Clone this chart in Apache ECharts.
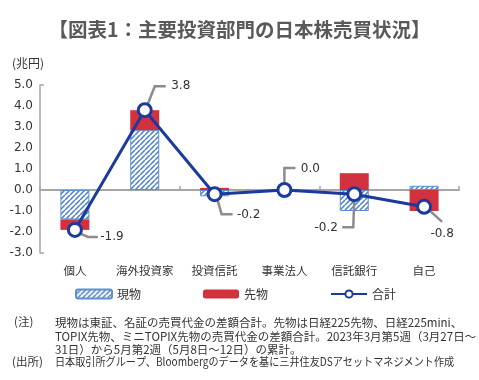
<!DOCTYPE html>
<html><head><meta charset="utf-8">
<script src="https://cdn.jsdelivr.net/npm/echarts@6/dist/echarts.min.js"></script>
<style>html,body{margin:0;padding:0;background:#fff}#c{width:479px;height:380px}</style>
</head><body><div id="c"></div>
<script>
var categories = ['個人','海外投資家','投資信託','事業法人','信託銀行','自己'];
var genbutsu = [-1.4, 2.85, -0.3, 0.03, -1.0, 0.2];
var sakimono = [-0.5, 0.95, 0.1, -0.03, 0.8, -1.0];
var total = [-1.9, 3.8, -0.2, 0.0, -0.2, -0.8];
var yTicks = [-3, 5, 1];
var labelOffsets = [[37,7],[36,-24],[34,21],[26,-21],[-28,34],[18,27]];
var leaderShapes = [
  [[6,4],[13,7],[23,7]],
  [[3,-6],[10,-24],[21,-24]],
  [[3,6],[7,20],[18,20]],
  [[0,-6],[0,-22],[11,-22]],
  [[0,6],[-1,33],[-12,33]],
  [[6,4],[18,15]]
];

var FONT = '"Noto Sans CJK JP", "Noto Sans", sans-serif';
var NUMFONT = '"DejaVu Sans", sans-serif';
var pc = document.createElement('canvas');
pc.width = 5; pc.height = 5;
var g = pc.getContext('2d');
g.fillStyle = '#ffffff'; g.fillRect(0,0,5,5);
g.strokeStyle = '#4a7fc8'; g.lineWidth = 1.5;
g.beginPath();
for (var k=-5;k<=10;k+=5){ g.moveTo(k,5); g.lineTo(k+5,0); }
g.stroke();

var texts = [
  {type:'text',left:12,top:57,style:{text:'(兆円)',fontSize:12,fill:'#333',fontFamily:FONT}},
  {type:'text',left:14,top:316,style:{text:'(注)',fontSize:11.5,fill:'#333',fontFamily:FONT}},
  {type:'text',left:55,top:316,style:{text:'現物は東証、名証の売買代金の差額合計。先物は日経225先物、日経225mini、\nTOPIX先物、ミニTOPIX先物の売買代金の差額合計。2023年3月第5週（3月27日～\n31日）から5月第2週（5月8日～12日）の累計。',
    fontSize:11.5,lineHeight:13.5,fill:'#333',fontFamily:FONT}},
  {type:'text',left:12,top:356,style:{text:'(出所)',fontSize:11.5,fill:'#333',fontFamily:FONT}},
  {type:'text',x:55,y:356,scaleX:0.88,style:{text:'日本取引所グループ、Bloombergのデータを基に三井住友DSアセットマネジメント作成',fontSize:11.5,fill:'#333',fontFamily:FONT}}
];

var chart = echarts.init(document.getElementById('c'));
chart.setOption({
  animation:false,
  textStyle:{fontFamily:FONT},
  title:{text:'【図表1：主要投資部門の日本株売買状況】',left:'center',top:15,
    textStyle:{fontSize:19.5,fontWeight:'bold',color:'#595959',fontFamily:FONT}},
  grid:{left:40,right:20,top:85,bottom:127},
  legend:{left:70,top:283,itemWidth:36,itemHeight:9,itemGap:62,
    textStyle:{fontSize:12,color:'#333'},
    data:[{name:'現物'},{name:'先物'},{name:'合計'}]},
  xAxis:[
    {type:'category',data:categories,position:'bottom',
      axisLine:{onZero:true,lineStyle:{color:'#a6a6a6',width:2}},
      axisTick:{show:true,inside:true,length:4,lineStyle:{color:'#a6a6a6',width:1.5}},
      axisLabel:{show:false}},
    {type:'category',data:categories,position:'bottom',
      axisLine:{show:false,onZero:false},axisTick:{show:false},
      axisLabel:{interval:0,margin:12,fontSize:11.5,color:'#333'}}
  ],
  yAxis:{type:'value',min:yTicks[0],max:yTicks[1],interval:yTicks[2],
    axisLine:{show:true,lineStyle:{color:'#a6a6a6',width:1.5}},
    axisTick:{show:false},splitLine:{show:false},
    axisLabel:{fontSize:12,color:'#333',margin:7,fontFamily:NUMFONT,formatter:function(v){return v.toFixed(1);}}},
  graphic:texts,
  series:[
    {name:'現物',type:'bar',stack:'a',data:genbutsu,barWidth:29,
      itemStyle:{color:{image:pc,repeat:'repeat'},borderColor:'#5b8fd0',borderWidth:1}},
    {name:'先物',type:'bar',stack:'a',data:sakimono,barWidth:29,
      itemStyle:{color:'#d4313e'}},
    {name:'合計',type:'line',data:total,z:5,symbol:'circle',symbolSize:13,
      lineStyle:{color:'#1a3a9c',width:3},
      itemStyle:{color:'#ffffff',borderColor:'#1a3a9c',borderWidth:3},
      label:{show:true,fontSize:12,color:'#333',fontFamily:NUMFONT,formatter:function(p){return p.value.toFixed(1);}},
      labelLayout:function(p){
        var o=labelOffsets[p.dataIndex];
        var cx=p.rect.x+p.rect.width/2, cy=p.rect.y+p.rect.height/2;
        return {x:cx+o[0], y:cy+o[1], align:'center', verticalAlign:'middle'};}
    }
  ]
});
var leaders = total.map(function(v,i){
  var c = chart.convertToPixel({xAxisIndex:0,yAxisIndex:0},[i,v]);
  return {type:'polyline',z:4,silent:true,
    shape:{points:leaderShapes[i].map(function(d){return [c[0]+d[0],c[1]+d[1]];})},
    style:{stroke:'#8c8c8c',lineWidth:2.5,fill:null}};
});
var hooks = [yTicks[0], yTicks[1]].map(function(v){
  var c = chart.convertToPixel({xAxisIndex:0,yAxisIndex:0},[0,v]);
  var x0 = chart.convertToPixel({yAxisIndex:0},v);
  var gx = chart.getModel().getComponent('grid').coordinateSystem.getRect().x;
  return {type:'line',silent:true,shape:{x1:gx,y1:c[1],x2:gx+4,y2:c[1]},
    style:{stroke:'#a6a6a6',lineWidth:1.5}};
});
chart.setOption({graphic:texts.concat(leaders).concat(hooks)});
</script></body></html>
